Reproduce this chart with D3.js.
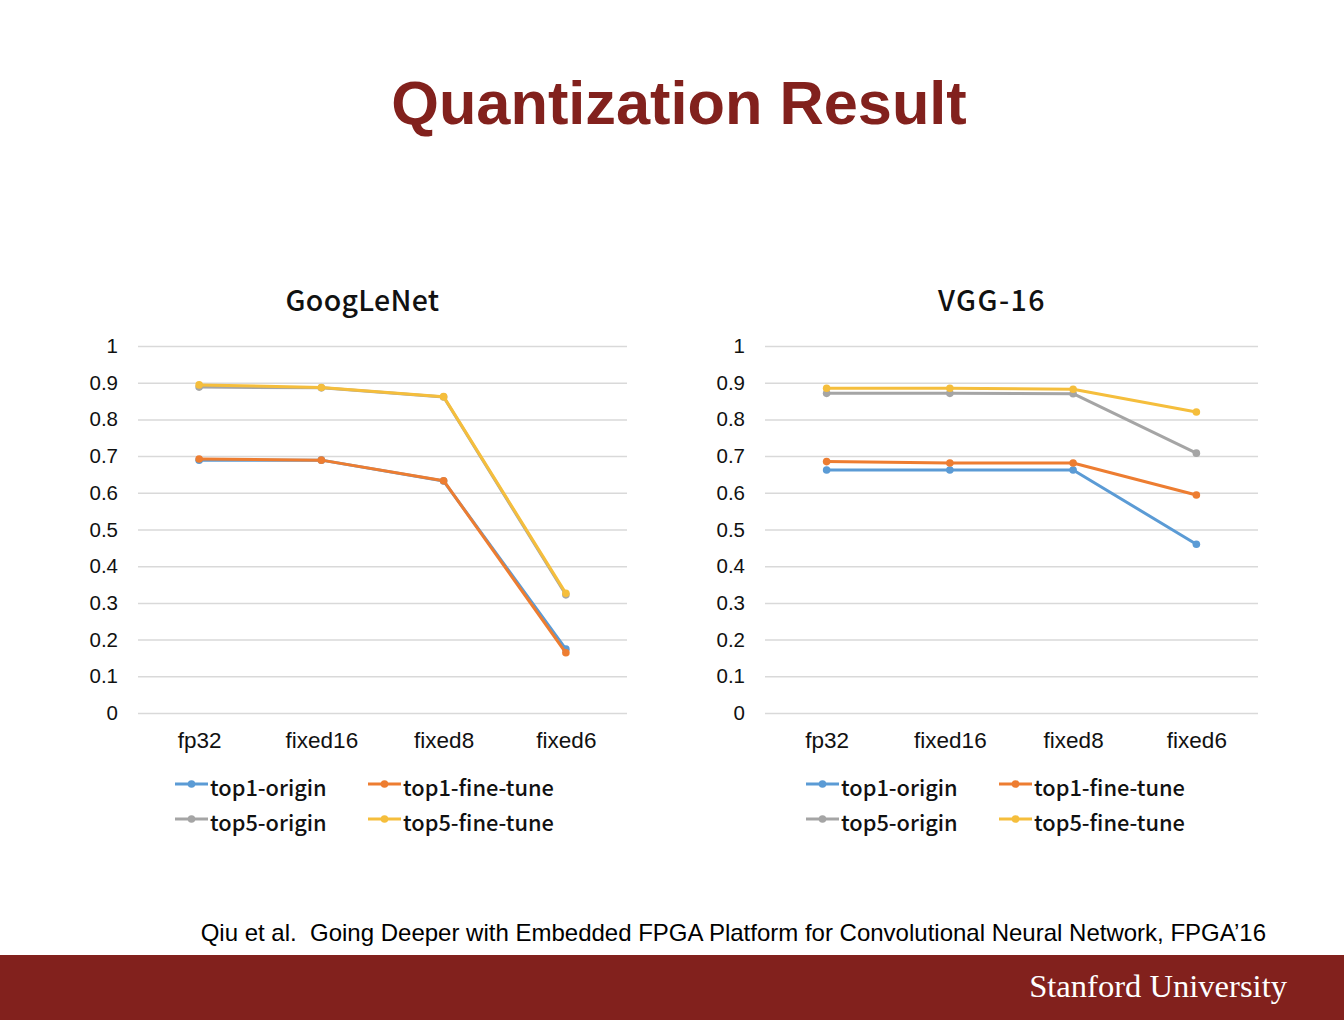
<!DOCTYPE html>
<html><head><meta charset="utf-8">
<script src="https://cdn.jsdelivr.net/npm/d3@7"></script>
<style>body{margin:0;background:#fff}svg{display:block}</style>
</head><body>
<svg id="c" width="1344" height="1020"></svg>
<script>
const categories = ["fp32","fixed16","fixed8","fixed6"];
const seriesNames = ["top1-origin","top1-fine-tune","top5-origin","top5-fine-tune"];
const seriesColors = ["#5B9BD5","#ED7D31","#A5A5A5","#F5BE3C"];
const yTicks = [0,0.1,0.2,0.3,0.4,0.5,0.6,0.7,0.8,0.9,1];
// GoogLeNet
const gTop1Origin   = [0.689,0.689,0.632,0.174];
const gTop1FineTune = [0.692,0.689,0.633,0.164];
const gTop5Origin   = [0.888,0.886,0.861,0.322];
const gTop5FineTune = [0.894,0.887,0.862,0.326];
// VGG-16
const vTop1Origin   = [0.662,0.662,0.662,0.460];
const vTop1FineTune = [0.685,0.681,0.681,0.594];
const vTop5Origin   = [0.871,0.871,0.870,0.708];
const vTop5FineTune = [0.885,0.885,0.882,0.820];

const svg = d3.select("#c");
const cardinal = "#82211D";

svg.append("text").attr("x",679).attr("y",124).attr("text-anchor","middle")
  .attr("font-family","Liberation Sans, Arial, sans-serif").attr("font-weight","bold")
  .attr("font-size",61.3).attr("fill",cardinal).text("Quantization Result");

function chart(title, titleX, left, right, legStart, data){
  const x = d3.scalePoint().domain(categories).range([left,right]).padding(0.5);
  const y = d3.scaleLinear().domain([0,1]).range([713,346]);
  const g = svg.append("g");
  g.append("text").attr("x",titleX).attr("y",311).attr("text-anchor","middle")
    .attr("font-family","Noto Sans CJK SC, sans-serif").attr("font-weight",500)
    .attr("font-size",28.5).attr("letter-spacing",title==="VGG-16"?1.5:0.3).attr("fill","#111").text(title);
  const ax = d3.axisLeft(y).tickValues(yTicks).tickSize(-(right-left)).tickFormat(d=>d3.format("")(+d.toFixed(1)));
  const ga = g.append("g").attr("transform",`translate(${left},0)`).call(ax);
  ga.select(".domain").remove();
  ga.selectAll(".tick line").attr("stroke","#d9d9d9").attr("stroke-width",1.5);
  ga.selectAll(".tick text").attr("x",-20).attr("font-family","Liberation Sans, Arial, sans-serif")
    .attr("font-size",20.5).attr("fill","#111");
  const xa = d3.axisBottom(x).tickSize(0);
  const gx = g.append("g").attr("transform","translate(0,713)").call(xa);
  gx.select(".domain").remove();
  gx.selectAll(".tick text").attr("dy",0).attr("y",35).attr("font-family","Liberation Sans, Arial, sans-serif")
    .attr("font-size",22.5).attr("fill","#111");
  const line = d3.line().x((d,i)=>x(categories[i])).y(d=>y(d));
  data.forEach((vals,si)=>{
    g.append("path").attr("d",line(vals)).attr("fill","none")
      .attr("stroke",seriesColors[si]).attr("stroke-width",3).attr("stroke-linejoin","round");
    vals.forEach((v,i)=>{
      g.append("circle").attr("cx",x(categories[i])).attr("cy",y(v)).attr("r",3.8).attr("fill",seriesColors[si]);
    });
  });
  const legX = [legStart, legStart+193];
  const legY = [784, 819];
  seriesNames.forEach((n,i)=>{
    const lx = legX[i%2], ly = legY[Math.floor(i/2)];
    g.append("line").attr("x1",lx).attr("x2",lx+33).attr("y1",ly).attr("y2",ly)
      .attr("stroke",seriesColors[i]).attr("stroke-width",3);
    g.append("circle").attr("cx",lx+16.5).attr("cy",ly).attr("r",3.8).attr("fill",seriesColors[i]);
    g.append("text").attr("x",lx+35).attr("y",ly+12).attr("font-family","Noto Sans CJK SC, sans-serif")
      .attr("font-weight",500).attr("font-size",21.8).attr("fill","#111").text(n);
  });
}
chart("GoogLeNet",362.5,138,627,175,[gTop1Origin,gTop1FineTune,gTop5Origin,gTop5FineTune]);
chart("VGG-16",992,765,1258,806,[vTop1Origin,vTop1FineTune,vTop5Origin,vTop5FineTune]);

svg.append("text").attr("x",1266).attr("y",941).attr("text-anchor","end")
  .attr("font-family","Liberation Sans, Arial, sans-serif").attr("font-size",24).attr("fill","#000")
  .attr("xml:space","preserve").style("white-space","pre")
  .text("Qiu et al.  Going Deeper with Embedded FPGA Platform for Convolutional Neural Network, FPGA\u201916");
svg.append("rect").attr("x",0).attr("y",955).attr("width",1344).attr("height",65).attr("fill",cardinal);
svg.append("text").attr("x",1287).attr("y",997).attr("text-anchor","end")
  .attr("font-family","Liberation Serif, DejaVu Serif, serif").attr("font-size",32.6).attr("fill","#fff")
  .text("Stanford University");
</script>
</body></html>
